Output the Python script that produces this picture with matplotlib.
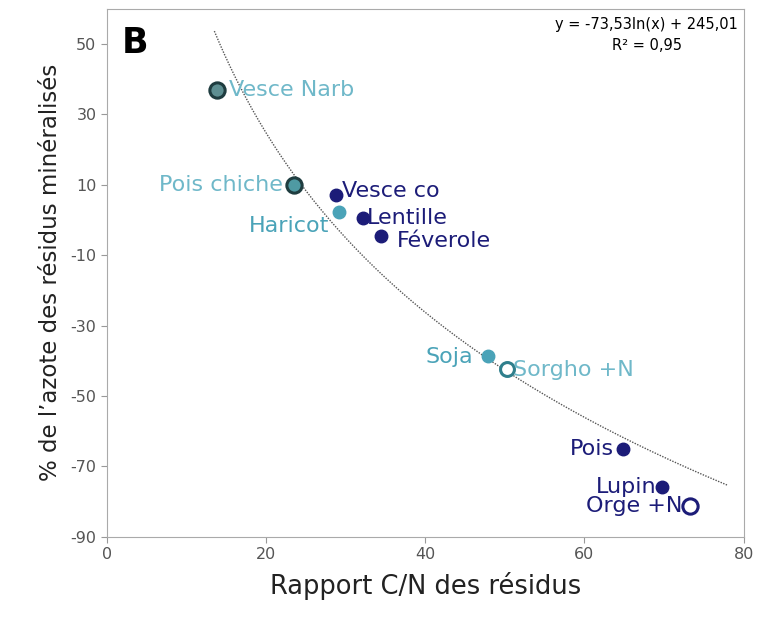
import numpy as np
import matplotlib.pyplot as plt

plt.rcParams["axes.unicode_minus"] = False

# rapport C/N et % N minéralisé
names = ["Vesce Narb", "Pois chiche", "Vesce co", "Haricot", "Lentille", "Féverole",
         "Soja", "Sorgho +N", "Pois", "Lupin", "Orge +N"]
cn = [13.8, 23.5, 28.8, 29.2, 32.2, 34.5, 47.9, 50.3, 64.8, 69.8, 73.3]
pct_n = [36.9, 10.0, 7.1, 2.3, 0.6, -4.5, -38.6, -42.3, -65.0, -75.9, -81.3]

NAVY = "#1c1c78"
TEAL = "#4aa3b8"
LIGHT = "#6fb8c9"
DARK = "#1f3d40"

# style de chaque point : (face, bord, taille, couleur du texte, offset, ha)
styles = {
    "Vesce Narb": ("#5e8f92", DARK, 11, LIGHT, (9, 0), "left"),
    "Pois chiche": ("#4f9aa3", DARK, 11, LIGHT, (-8, 0), "right"),
    "Vesce co": (NAVY, NAVY, 9, NAVY, (4, 3), "left"),
    "Haricot": (TEAL, TEAL, 9, TEAL, (-7, -10), "right"),
    "Lentille": (NAVY, NAVY, 9, NAVY, (3, 0), "left"),
    "Féverole": (NAVY, NAVY, 9, NAVY, (11, -4), "left"),
    "Soja": (TEAL, TEAL, 9, TEAL, (-11, -1), "right"),
    "Sorgho +N": ("white", "#2f7f8c", 10, LIGHT, (4, -1), "left"),
    "Pois": (NAVY, NAVY, 9, NAVY, (-6, 0), "right"),
    "Lupin": (NAVY, NAVY, 9, NAVY, (-4, 0), "right"),
    "Orge +N": ("white", NAVY, 11, NAVY, (-6, 0), "right"),
}

fig = plt.figure(figsize=(7.69, 6.2), dpi=100)
ax = fig.add_axes([0.139, 0.134, 0.828, 0.852])

# courbe de tendance logarithmique
xt = np.linspace(13.5, 78, 300)
ax.plot(xt, -73.53 * np.log(xt) + 245.01, color="#555555", lw=1.0, ls=(0, (1, 1)))

for name, x, y in zip(names, cn, pct_n):
    face, edge, size, tcol, off, ha = styles[name]
    ax.plot(x, y, "o", ms=size, mfc=face, mec=edge, mew=2.2 if face == "white" or edge == DARK else 1)
    ax.annotate(name, (x, y), xytext=off, textcoords="offset points",
                ha=ha, va="center", color=tcol, fontsize=16)

ax.text(0.023, 0.968, "B", transform=ax.transAxes, fontsize=25, fontweight="bold",
        va="top", ha="left")
ax.text(0.848, 0.985, "y = -73,53ln(x) + 245,01\nR² = 0,95", transform=ax.transAxes,
        fontsize=10.5, va="top", ha="center", linespacing=1.5)

ax.set_xlim(0, 80)
ax.set_ylim(-90, 60)
ax.set_xticks([0, 20, 40, 60, 80])
ax.set_yticks([50, 30, 10, -10, -30, -50, -70, -90])
ax.tick_params(colors="#999999", labelcolor="#555555", labelsize=11.5, length=4)
for s in ax.spines.values():
    s.set_color("#aaaaaa")

ax.set_xlabel("Rapport C/N des résidus", fontsize=18.5, color="#222222", labelpad=7)
ax.set_ylabel("% de l’azote des résidus minéralisés", fontsize=16.5, color="#222222", labelpad=6)

fig.savefig("out.png", dpi=100)
